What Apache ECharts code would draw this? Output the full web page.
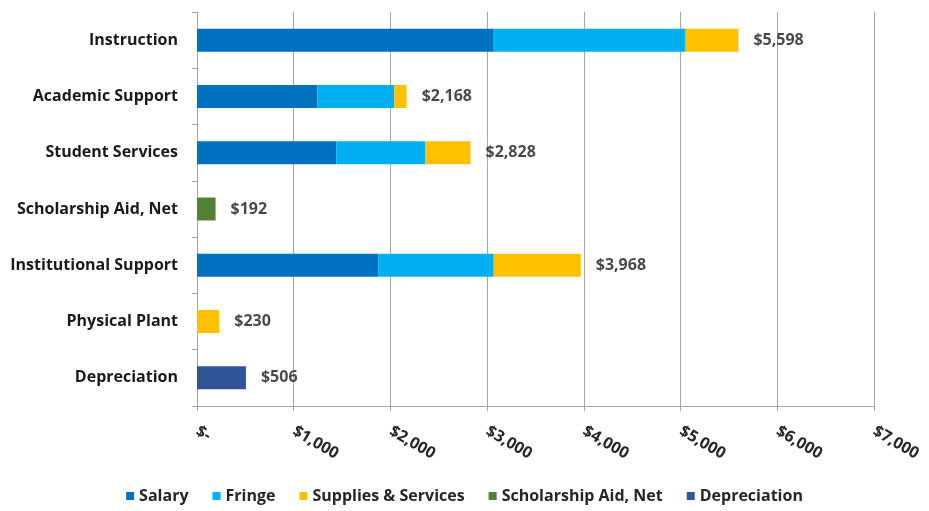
<!DOCTYPE html>
<html>
<head>
<meta charset="utf-8">
<script src="https://cdn.jsdelivr.net/npm/echarts@6/dist/echarts.min.js"></script>
<style>
html,body{margin:0;padding:0;background:#fff;}
#chart{width:929px;height:511px;}
</style>
</head>
<body>
<div id="chart"></div>
<script>
const categories = ['Instruction', 'Academic Support', 'Student Services', 'Scholarship Aid, Net', 'Institutional Support', 'Physical Plant', 'Depreciation'];
const salary      = [3068, 1243, 1439, 0, 1873, 0, 0];
const fringe      = [1984, 798, 920, 0, 1195, 0, 0];
const supplies    = [546, 127, 469, 0, 900, 230, 0];
const scholarship = [0, 0, 0, 192, 0, 0, 0];
const depreciation= [0, 0, 0, 0, 0, 0, 506];
const xTicks = [0, 1000, 2000, 3000, 4000, 5000, 6000, 7000];

const totals = categories.map((c, i) => salary[i] + fringe[i] + supplies[i] + scholarship[i] + depreciation[i]);
const fmt = v => v === 0 ? '$-' : '$' + v.toLocaleString('en-US');

const FONT = 'Open Sans';
const chart = echarts.init(document.getElementById('chart'));
const seriesDefs = [
  ['Salary', salary, '#0070C0'],
  ['Fringe', fringe, '#00B0F0'],
  ['Supplies & Services', supplies, '#FFC000'],
  ['Scholarship Aid, Net', scholarship, '#548235'],
  ['Depreciation', depreciation, '#2F5597']
];
const series = seriesDefs.map(([name, data, color]) => ({
  name, type: 'bar', stack: 'total', data: data.map(v => v === 0 ? null : v),
  barWidth: 23, itemStyle: { color }, emphasis: { disabled: true }
}));
series.push({
  name: 'Total', type: 'scatter', symbolSize: 0, silent: true,
  data: totals.map((t, i) => [t, categories[i]]),
  label: { show: true, position: 'right', distance: 15, formatter: p => fmt(p.value[0]),
    fontFamily: FONT, fontWeight: 'bold', fontSize: 16, color: '#1a1a1a' }
});

chart.setOption({
  animation: false,
  grid: { left: 197, right: 55, top: 12, bottom: 105, containLabel: false },
  legend: {
    data: seriesDefs.map(s => s[0]), bottom: 2, left: 'center',
    itemWidth: 8, itemHeight: 8, itemGap: 24, icon: 'rect',
    textStyle: { fontFamily: FONT, fontWeight: 'bold', fontSize: 16, color: '#262626' }
  },
  xAxis: {
    type: 'value', min: 0, max: 7000, interval: 1000,
    axisLine: { show: true, lineStyle: { color: '#A6A6A6' } },
    axisTick: { show: true, length: 5, lineStyle: { color: '#A6A6A6' } },
    splitLine: { show: true, lineStyle: { color: '#A6A6A6' } },
    axisLabel: { rotate: -30, margin: 24, formatter: v => xTicks.includes(v) ? fmt(v) : '',
      fontFamily: FONT, fontWeight: 'bold', fontSize: 16, color: '#262626' }
  },
  yAxis: {
    type: 'category', data: categories, inverse: true,
    axisLine: { show: true, lineStyle: { color: '#A6A6A6' } },
    axisTick: { show: true, length: 5, lineStyle: { color: '#A6A6A6' } },
    axisLabel: { margin: 19, fontFamily: FONT, fontWeight: 'bold', fontSize: 16, color: '#1a1a1a' }
  },
  series
});
</script>
</body>
</html>
